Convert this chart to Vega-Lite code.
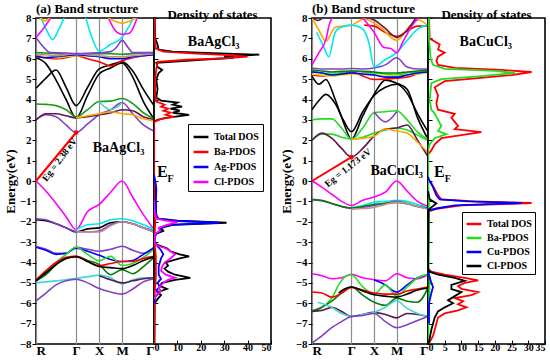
{
"$schema":"https://vega.github.io/schema/vega-lite/v6.json",
"padding":{"left":3,"top":2,"right":2,"bottom":0},
"config":{"view":{"stroke":"black","strokeWidth":1.6},"font":"Liberation Serif",
"axis":{"labelFont":"Liberation Serif","labelFontWeight":"bold","labelFontSize":11,"labelColor":"black","titleFont":"Liberation Serif","titleFontWeight":"bold","titleFontSize":13,"titleColor":"black","domain":false,"tickColor":"black","grid":false,"labelOverlap":false,"tickCount":40},
"title":{"font":"Liberation Serif","fontWeight":"bold","fontSize":13,"offset":-4,"color":"black"}},
"datasets":{
"ba":[
{"b":"ab1","k":0,"e":6.05},{"b":"ab1","k":0.085,"e":5.75},{"b":"ab1","k":0.17,"e":4.95},{"b":"ab1","k":0.255,"e":4.0},{"b":"ab1","k":0.34,"e":3.1},{"b":"ab1","k":0.4375,"e":4.2},{"b":"ab1","k":0.535,"e":5.25},{"b":"ab1","k":0.6325,"e":5.55},{"b":"ab1","k":0.73,"e":5.8},{"b":"ab1","k":0.82,"e":5.1},{"b":"ab1","k":0.91,"e":3.9},{"b":"ab1","k":1,"e":3.05},
{"b":"ab2","k":0,"e":4.55},{"b":"ab2","k":0.085,"e":5.05},{"b":"ab2","k":0.17,"e":5.45},{"b":"ab2","k":0.255,"e":4.6},{"b":"ab2","k":0.34,"e":3.7},{"b":"ab2","k":0.4375,"e":4.6},{"b":"ab2","k":0.535,"e":5.5},{"b":"ab2","k":0.6325,"e":5.7},{"b":"ab2","k":0.73,"e":5.85},{"b":"ab2","k":0.82,"e":5.4},{"b":"ab2","k":0.91,"e":4.5},{"b":"ab2","k":1,"e":3.7},
{"b":"ag1","k":0,"e":3.78},{"b":"ag1","k":0.085,"e":3.76},{"b":"ag1","k":0.17,"e":3.7},{"b":"ag1","k":0.255,"e":3.5},{"b":"ag1","k":0.34,"e":3.15},{"b":"ag1","k":0.4375,"e":3.5},{"b":"ag1","k":0.535,"e":3.9},{"b":"ag1","k":0.6325,"e":3.92},{"b":"ag1","k":0.73,"e":4.05},{"b":"ag1","k":0.82,"e":3.8},{"b":"ag1","k":0.91,"e":3.35},{"b":"ag1","k":1,"e":3.05},
{"b":"ap1","k":0,"e":3.0},{"b":"ap1","k":0.085,"e":3.25},{"b":"ap1","k":0.17,"e":3.15},{"b":"ap1","k":0.255,"e":2.75},{"b":"ap1","k":0.34,"e":2.38},{"b":"ap1","k":0.4375,"e":2.8},{"b":"ap1","k":0.535,"e":3.25},{"b":"ap1","k":0.6325,"e":3.5},{"b":"ap1","k":0.73,"e":3.85},{"b":"ap1","k":0.82,"e":3.3},{"b":"ap1","k":0.91,"e":2.75},{"b":"ap1","k":1,"e":2.45},
{"b":"am1","k":0,"e":3.0},{"b":"am1","k":0.085,"e":3.3},{"b":"am1","k":0.17,"e":3.3},{"b":"am1","k":0.255,"e":3.2},{"b":"am1","k":0.34,"e":3.1},{"b":"am1","k":0.4375,"e":3.15},{"b":"am1","k":0.535,"e":3.25},{"b":"am1","k":0.6325,"e":3.35},{"b":"am1","k":0.73,"e":3.5},{"b":"am1","k":0.82,"e":3.45},{"b":"am1","k":0.91,"e":3.15},{"b":"am1","k":1,"e":3.0},
{"b":"ao1","k":0.34,"e":3.1},{"b":"ao1","k":0.4375,"e":3.2},{"b":"ao1","k":0.535,"e":3.3},{"b":"ao1","k":0.6325,"e":3.4},{"b":"ao1","k":0.73,"e":3.3},{"b":"ao1","k":0.82,"e":3.25},{"b":"ao1","k":0.91,"e":3.05},{"b":"ao1","k":1,"e":2.95},
{"b":"ac1","k":0.535,"e":3.9},{"b":"ac1","k":0.58,"e":3.65},{"b":"ac1","k":0.6325,"e":3.5},{"b":"ac1","k":0.68,"e":3.6},{"b":"ac1","k":0.73,"e":3.85},
{"b":"ag2","k":0,"e":6.3},{"b":"ag2","k":0.085,"e":6.28},{"b":"ag2","k":0.17,"e":6.25},{"b":"ag2","k":0.255,"e":6.22},{"b":"ag2","k":0.34,"e":6.2},{"b":"ag2","k":0.4375,"e":6.22},{"b":"ag2","k":0.535,"e":6.25},{"b":"ag2","k":0.6325,"e":6.25},{"b":"ag2","k":0.73,"e":6.22},{"b":"ag2","k":0.82,"e":6.25},{"b":"ag2","k":0.91,"e":6.28},{"b":"ag2","k":1,"e":6.3},
{"b":"ar1","k":0,"e":6.1},{"b":"ar1","k":0.085,"e":6.05},{"b":"ar1","k":0.17,"e":6.0},{"b":"ar1","k":0.255,"e":6.05},{"b":"ar1","k":0.34,"e":6.15},{"b":"ar1","k":0.4375,"e":6.0},{"b":"ar1","k":0.535,"e":5.85},{"b":"ar1","k":0.6325,"e":5.65},{"b":"ar1","k":0.73,"e":5.9},{"b":"ar1","k":0.82,"e":6.05},{"b":"ar1","k":0.91,"e":6.15},{"b":"ar1","k":1,"e":6.2},
{"b":"ay1","k":0,"e":6.2},{"b":"ay1","k":0.085,"e":6.1},{"b":"ay1","k":0.17,"e":6.05},{"b":"ay1","k":0.255,"e":6.1},{"b":"ay1","k":0.34,"e":6.15},{"b":"ay1","k":0.4375,"e":6.15},{"b":"ay1","k":0.535,"e":6.1},{"b":"ay1","k":0.6325,"e":6.05},{"b":"ay1","k":0.73,"e":6.05},{"b":"ay1","k":0.82,"e":6.1},{"b":"ay1","k":0.91,"e":6.15},{"b":"ay1","k":1,"e":6.2},
{"b":"au1","k":0,"e":6.15},{"b":"au1","k":0.085,"e":6.05},{"b":"au1","k":0.17,"e":6.1},{"b":"au1","k":0.255,"e":6.15},{"b":"au1","k":0.34,"e":6.2},{"b":"au1","k":0.4375,"e":6.15},{"b":"au1","k":0.535,"e":6.1},{"b":"au1","k":0.6325,"e":6.0},{"b":"au1","k":0.73,"e":6.0},{"b":"au1","k":0.82,"e":6.1},{"b":"au1","k":0.91,"e":6.15},{"b":"au1","k":1,"e":6.2},
{"b":"an1","k":0,"e":6.2},{"b":"an1","k":0.085,"e":6.2},{"b":"an1","k":0.17,"e":6.15},{"b":"an1","k":0.255,"e":6.2},{"b":"an1","k":0.34,"e":6.25},{"b":"an1","k":0.4375,"e":6.2},{"b":"an1","k":0.535,"e":6.15},{"b":"an1","k":0.6325,"e":6.1},{"b":"an1","k":0.73,"e":6.1},{"b":"an1","k":0.82,"e":6.15},{"b":"an1","k":0.91,"e":6.2},{"b":"an1","k":1,"e":6.25},
{"b":"ap2","k":0,"e":7.05},{"b":"ap2","k":0.06,"e":6.6},{"b":"ap2","k":0.12,"e":6.3},{"b":"ap2","k":0.255,"e":6.28},{"b":"ap2","k":0.34,"e":6.25},{"b":"ap2","k":0.535,"e":6.3},{"b":"ap2","k":0.6325,"e":6.35},{"b":"ap2","k":0.68,"e":6.55},{"b":"ap2","k":0.73,"e":6.9},{"b":"ap2","k":0.78,"e":6.55},{"b":"ap2","k":0.82,"e":6.3},{"b":"ap2","k":1,"e":6.3},
{"b":"ac2","k":0.04,"e":8.05},{"b":"ac2","k":0.09,"e":7.4},{"b":"ac2","k":0.14,"e":6.95},{"b":"ac2","k":0.19,"e":7.4},{"b":"ac2","k":0.24,"e":8.05},
{"b":"ac3","k":0.42,"e":8.05},{"b":"ac3","k":0.47,"e":7.1},{"b":"ac3","k":0.535,"e":6.37},{"b":"ac3","k":0.63,"e":6.7},{"b":"ac3","k":0.73,"e":7.05},{"b":"ac3","k":0.78,"e":7.5},{"b":"ac3","k":0.83,"e":8.05},
{"b":"ak1","k":0,"e":7.05},{"b":"ak1","k":0.065,"e":7.5},{"b":"ak1","k":0.13,"e":8.05},
{"b":"ak2","k":0.61,"e":8.05},{"b":"ak2","k":0.67,"e":7.4},{"b":"ak2","k":0.73,"e":7.2},{"b":"ak2","k":0.79,"e":7.25},{"b":"ak2","k":0.86,"e":8.05},
{"b":"ao2","k":0.03,"e":8.05},{"b":"ao2","k":0.075,"e":7.85},{"b":"ao2","k":0.12,"e":8.05},
{"b":"ao3","k":0.6,"e":8.05},{"b":"ao3","k":0.73,"e":7.75},{"b":"ao3","k":0.86,"e":8.05},
{"b":"ak3","k":0,"e":0},{"b":"ak3","k":0.085,"e":-0.5},{"b":"ak3","k":0.17,"e":-1.1},{"b":"ak3","k":0.255,"e":-1.75},{"b":"ak3","k":0.34,"e":-2.38},{"b":"ak3","k":0.4375,"e":-1.5},{"b":"ak3","k":0.535,"e":-1.15},{"b":"ak3","k":0.6325,"e":-0.55},{"b":"ak3","k":0.73,"e":0},{"b":"ak3","k":0.82,"e":-0.8},{"b":"ak3","k":0.91,"e":-1.65},{"b":"ak3","k":1,"e":-2.38},
{"b":"ab3","k":0,"e":-1.9},{"b":"ab3","k":0.085,"e":-1.95},{"b":"ab3","k":0.17,"e":-2.1},{"b":"ab3","k":0.255,"e":-2.3},{"b":"ab3","k":0.34,"e":-2.5},{"b":"ab3","k":0.4375,"e":-2.35},{"b":"ab3","k":0.535,"e":-2.3},{"b":"ab3","k":0.6325,"e":-2.05},{"b":"ab3","k":0.73,"e":-2.0},{"b":"ab3","k":0.82,"e":-2.1},{"b":"ab3","k":0.91,"e":-2.3},{"b":"ab3","k":1,"e":-2.5},
{"b":"ap3","k":0,"e":-1.85},{"b":"ap3","k":0.085,"e":-1.9},{"b":"ap3","k":0.17,"e":-2.1},{"b":"ap3","k":0.255,"e":-2.3},{"b":"ap3","k":0.34,"e":-2.48},{"b":"ap3","k":0.4375,"e":-2.5},{"b":"ap3","k":0.535,"e":-2.45},{"b":"ap3","k":0.6325,"e":-2.15},{"b":"ap3","k":0.73,"e":-2.0},{"b":"ap3","k":0.82,"e":-2.1},{"b":"ap3","k":0.91,"e":-2.3},{"b":"ap3","k":1,"e":-2.45},
{"b":"ac4","k":0.34,"e":-2.4},{"b":"ac4","k":0.4375,"e":-2.15},{"b":"ac4","k":0.535,"e":-2.1},{"b":"ac4","k":0.6325,"e":-1.9},{"b":"ac4","k":0.73,"e":-1.85},{"b":"ac4","k":0.82,"e":-1.95},{"b":"ac4","k":0.91,"e":-2.15},{"b":"ac4","k":1,"e":-2.38},
{"b":"an2","k":0.34,"e":-2.5},{"b":"an2","k":0.4375,"e":-2.5},{"b":"an2","k":0.535,"e":-2.5},{"b":"an2","k":0.6325,"e":-2.2},{"b":"an2","k":0.73,"e":-2.0},{"b":"an2","k":0.82,"e":-2.1},{"b":"an2","k":0.91,"e":-2.3},{"b":"an2","k":1,"e":-2.5},
{"b":"ap4","k":0,"e":-3.2},{"b":"ap4","k":0.085,"e":-3.35},{"b":"ap4","k":0.17,"e":-3.55},{"b":"ap4","k":0.255,"e":-3.55},{"b":"ap4","k":0.34,"e":-3.25},{"b":"ap4","k":0.4375,"e":-3.35},{"b":"ap4","k":0.535,"e":-3.45},{"b":"ap4","k":0.6325,"e":-3.35},{"b":"ap4","k":0.73,"e":-3.2},{"b":"ap4","k":0.82,"e":-3.4},{"b":"ap4","k":0.91,"e":-3.55},{"b":"ap4","k":1,"e":-3.25},
{"b":"au2","k":0,"e":-3.25},{"b":"au2","k":0.085,"e":-3.4},{"b":"au2","k":0.17,"e":-3.6},{"b":"au2","k":0.255,"e":-3.55},{"b":"au2","k":0.34,"e":-3.3},{"b":"au2","k":0.4375,"e":-3.45},{"b":"au2","k":0.535,"e":-3.65},{"b":"au2","k":0.6325,"e":-3.85},{"b":"au2","k":0.73,"e":-3.95},{"b":"au2","k":0.82,"e":-3.9},{"b":"au2","k":0.91,"e":-3.6},{"b":"au2","k":1,"e":-3.3},
{"b":"al1","k":0,"e":-4.9},{"b":"al1","k":0.085,"e":-4.5},{"b":"al1","k":0.17,"e":-4.0},{"b":"al1","k":0.255,"e":-3.6},{"b":"al1","k":0.34,"e":-3.25},{"b":"al1","k":0.4375,"e":-3.6},{"b":"al1","k":0.535,"e":-3.92},{"b":"al1","k":0.6325,"e":-3.7},{"b":"al1","k":0.73,"e":-4.15},{"b":"al1","k":0.82,"e":-4.05},{"b":"al1","k":0.91,"e":-3.75},{"b":"al1","k":1,"e":-3.35},
{"b":"ad1","k":0,"e":-4.9},{"b":"ad1","k":0.085,"e":-4.6},{"b":"ad1","k":0.17,"e":-4.1},{"b":"ad1","k":0.255,"e":-3.8},{"b":"ad1","k":0.34,"e":-3.7},{"b":"ad1","k":0.4375,"e":-3.9},{"b":"ad1","k":0.535,"e":-4.1},{"b":"ad1","k":0.6325,"e":-4.6},{"b":"ad1","k":0.73,"e":-4.35},{"b":"ad1","k":0.82,"e":-4.55},{"b":"ad1","k":0.91,"e":-4.2},{"b":"ad1","k":1,"e":-3.75},
{"b":"ar2","k":0,"e":-4.85},{"b":"ar2","k":0.085,"e":-4.4},{"b":"ar2","k":0.17,"e":-4.0},{"b":"ar2","k":0.255,"e":-3.75},{"b":"ar2","k":0.34,"e":-3.7},{"b":"ar2","k":0.4375,"e":-3.95},{"b":"ar2","k":0.535,"e":-4.15},{"b":"ar2","k":0.6325,"e":-4.05},{"b":"ar2","k":0.73,"e":-3.95},{"b":"ar2","k":0.82,"e":-3.95},{"b":"ar2","k":0.91,"e":-3.8},{"b":"ar2","k":1,"e":-3.7},
{"b":"ab4","k":0,"e":-4.9},{"b":"ab4","k":0.085,"e":-4.5},{"b":"ab4","k":0.17,"e":-4.1},{"b":"ab4","k":0.255,"e":-3.8},{"b":"ab4","k":0.34,"e":-3.72},{"b":"ab4","k":0.4375,"e":-3.95},{"b":"ab4","k":0.535,"e":-4.2},{"b":"ab4","k":0.6325,"e":-4.25},{"b":"ab4","k":0.73,"e":-4.3},{"b":"ab4","k":0.82,"e":-4.15},{"b":"ab4","k":0.91,"e":-3.9},{"b":"ab4","k":1,"e":-3.72},
{"b":"at1","k":0,"e":-5.0},{"b":"at1","k":0.085,"e":-4.95},{"b":"at1","k":0.17,"e":-4.9},{"b":"at1","k":0.255,"e":-4.85},{"b":"at1","k":0.34,"e":-4.78},{"b":"at1","k":0.4375,"e":-4.7},{"b":"at1","k":0.535,"e":-4.62},{"b":"at1","k":0.6325,"e":-4.75},{"b":"at1","k":0.73,"e":-5.05},{"b":"at1","k":0.82,"e":-4.85},{"b":"at1","k":0.91,"e":-4.75},{"b":"at1","k":1,"e":-4.75},
{"b":"am2","k":0.535,"e":-4.65},{"b":"am2","k":0.6325,"e":-4.85},{"b":"am2","k":0.73,"e":-5.0},{"b":"am2","k":0.82,"e":-4.9},{"b":"am2","k":0.91,"e":-4.8},{"b":"am2","k":1,"e":-4.75},
{"b":"ap5","k":0,"e":-5.88},{"b":"ap5","k":0.085,"e":-5.5},{"b":"ap5","k":0.17,"e":-5.1},{"b":"ap5","k":0.255,"e":-4.9},{"b":"ap5","k":0.34,"e":-4.82},{"b":"ap5","k":0.4375,"e":-5.0},{"b":"ap5","k":0.535,"e":-5.28},{"b":"ap5","k":0.6325,"e":-5.45},{"b":"ap5","k":0.73,"e":-5.55},{"b":"ap5","k":0.82,"e":-5.3},{"b":"ap5","k":0.91,"e":-4.95},{"b":"ap5","k":1,"e":-4.8}
],
"bb":[
{"b":"bb1","k":0,"e":3.5},{"b":"bb1","k":0.06,"e":3.95},{"b":"bb1","k":0.12,"e":4.25},{"b":"bb1","k":0.2,"e":3.8},{"b":"bb1","k":0.27,"e":3.0},{"b":"bb1","k":0.34,"e":2.42},{"b":"bb1","k":0.4375,"e":3.4},{"b":"bb1","k":0.535,"e":4.2},{"b":"bb1","k":0.6325,"e":4.6},{"b":"bb1","k":0.73,"e":4.75},{"b":"bb1","k":0.82,"e":4.3},{"b":"bb1","k":0.91,"e":3.3},{"b":"bb1","k":1,"e":2.42},
{"b":"bb2","k":0,"e":5.15},{"b":"bb2","k":0.06,"e":4.75},{"b":"bb2","k":0.12,"e":4.98},{"b":"bb2","k":0.2,"e":4.0},{"b":"bb2","k":0.27,"e":2.9},{"b":"bb2","k":0.34,"e":2.05},{"b":"bb2","k":0.4375,"e":3.2},{"b":"bb2","k":0.535,"e":4.25},{"b":"bb2","k":0.6325,"e":4.95},{"b":"bb2","k":0.73,"e":4.8},{"b":"bb2","k":0.82,"e":4.5},{"b":"bb2","k":0.91,"e":3.1},{"b":"bb2","k":1,"e":2.05},
{"b":"bl1","k":0,"e":3.0},{"b":"bl1","k":0.085,"e":3.05},{"b":"bl1","k":0.17,"e":3.05},{"b":"bl1","k":0.255,"e":2.6},{"b":"bl1","k":0.34,"e":2.05},{"b":"bl1","k":0.4375,"e":2.6},{"b":"bl1","k":0.535,"e":3.35},{"b":"bl1","k":0.6325,"e":3.4},{"b":"bl1","k":0.73,"e":3.45},{"b":"bl1","k":0.82,"e":3.0},{"b":"bl1","k":0.91,"e":2.4},{"b":"bl1","k":1,"e":2.05},
{"b":"bl2","k":0,"e":2.0},{"b":"bl2","k":0.085,"e":2.3},{"b":"bl2","k":0.17,"e":2.3},{"b":"bl2","k":0.255,"e":2.15},{"b":"bl2","k":0.34,"e":2.05},{"b":"bl2","k":0.4375,"e":2.15},{"b":"bl2","k":0.535,"e":2.35},{"b":"bl2","k":0.6325,"e":2.5},{"b":"bl2","k":0.73,"e":2.6},{"b":"bl2","k":0.82,"e":2.5},{"b":"bl2","k":0.91,"e":2.25},{"b":"bl2","k":1,"e":2.0},
{"b":"bm1","k":0,"e":2.0},{"b":"bm1","k":0.085,"e":2.35},{"b":"bm1","k":0.17,"e":2.1},{"b":"bm1","k":0.255,"e":1.6},{"b":"bm1","k":0.34,"e":1.17},{"b":"bm1","k":0.4375,"e":1.6},{"b":"bm1","k":0.535,"e":2.2},{"b":"bm1","k":0.6325,"e":2.55},{"b":"bm1","k":0.73,"e":2.6},{"b":"bm1","k":0.82,"e":2.75},{"b":"bm1","k":0.91,"e":2.0},{"b":"bm1","k":1,"e":1.2},
{"b":"bo1","k":0.34,"e":2.05},{"b":"bo1","k":0.4375,"e":2.1},{"b":"bo1","k":0.535,"e":2.2},{"b":"bo1","k":0.6325,"e":2.55},{"b":"bo1","k":0.73,"e":2.45},{"b":"bo1","k":0.82,"e":2.35},{"b":"bo1","k":0.91,"e":1.9},{"b":"bo1","k":1,"e":1.4},
{"b":"bp1","k":0.535,"e":3.4},{"b":"bp1","k":0.6325,"e":2.9},{"b":"bp1","k":0.73,"e":3.4},
{"b":"bp2","k":0,"e":5.55},{"b":"bp2","k":0.085,"e":5.5},{"b":"bp2","k":0.17,"e":5.5},{"b":"bp2","k":0.255,"e":5.5},{"b":"bp2","k":0.34,"e":5.52},{"b":"bp2","k":0.4375,"e":5.5},{"b":"bp2","k":0.535,"e":5.55},{"b":"bp2","k":0.6325,"e":5.7},{"b":"bp2","k":0.73,"e":6.05},{"b":"bp2","k":0.82,"e":5.6},{"b":"bp2","k":0.91,"e":5.5},{"b":"bp2","k":1,"e":5.5},
{"b":"br1","k":0,"e":5.2},{"b":"br1","k":0.085,"e":5.15},{"b":"br1","k":0.17,"e":5.2},{"b":"br1","k":0.255,"e":5.3},{"b":"br1","k":0.34,"e":5.35},{"b":"br1","k":0.4375,"e":5.15},{"b":"br1","k":0.535,"e":4.98},{"b":"br1","k":0.6325,"e":5.0},{"b":"br1","k":0.73,"e":5.05},{"b":"br1","k":0.82,"e":5.1},{"b":"br1","k":0.91,"e":5.25},{"b":"br1","k":1,"e":5.35},
{"b":"bl3","k":0,"e":5.4},{"b":"bl3","k":0.085,"e":5.3},{"b":"bl3","k":0.17,"e":5.25},{"b":"bl3","k":0.255,"e":5.3},{"b":"bl3","k":0.34,"e":5.4},{"b":"bl3","k":0.4375,"e":5.35},{"b":"bl3","k":0.535,"e":5.3},{"b":"bl3","k":0.6325,"e":5.25},{"b":"bl3","k":0.73,"e":5.2},{"b":"bl3","k":0.82,"e":5.3},{"b":"bl3","k":0.91,"e":5.35},{"b":"bl3","k":1,"e":5.4},
{"b":"by1","k":0,"e":5.25},{"b":"by1","k":0.085,"e":5.2},{"b":"by1","k":0.17,"e":5.15},{"b":"by1","k":0.255,"e":5.2},{"b":"by1","k":0.34,"e":5.25},{"b":"by1","k":0.4375,"e":5.25},{"b":"by1","k":0.535,"e":5.2},{"b":"by1","k":0.6325,"e":5.15},{"b":"by1","k":0.73,"e":5.15},{"b":"by1","k":0.82,"e":5.2},{"b":"by1","k":0.91,"e":5.25},{"b":"by1","k":1,"e":5.3},
{"b":"bu1","k":0,"e":5.35},{"b":"bu1","k":0.085,"e":5.3},{"b":"bu1","k":0.17,"e":5.2},{"b":"bu1","k":0.255,"e":5.25},{"b":"bu1","k":0.34,"e":5.3},{"b":"bu1","k":0.4375,"e":5.25},{"b":"bu1","k":0.535,"e":5.2},{"b":"bu1","k":0.6325,"e":5.1},{"b":"bu1","k":0.73,"e":5.1},{"b":"bu1","k":0.82,"e":5.2},{"b":"bu1","k":0.91,"e":5.3},{"b":"bu1","k":1,"e":5.35},
{"b":"bd1","k":0,"e":5.45},{"b":"bd1","k":0.085,"e":5.4},{"b":"bd1","k":0.17,"e":5.35},{"b":"bd1","k":0.255,"e":5.38},{"b":"bd1","k":0.34,"e":5.4},{"b":"bd1","k":0.4375,"e":5.38},{"b":"bd1","k":0.535,"e":5.35},{"b":"bd1","k":0.6325,"e":5.3},{"b":"bd1","k":0.73,"e":5.3},{"b":"bd1","k":0.82,"e":5.35},{"b":"bd1","k":0.91,"e":5.4},{"b":"bd1","k":1,"e":5.45},
{"b":"br2","k":0.45,"e":7.65},{"b":"br2","k":0.535,"e":7.6},{"b":"br2","k":0.63,"e":7.3},{"b":"br2","k":0.73,"e":7.1},{"b":"br2","k":0.82,"e":7.35},{"b":"br2","k":0.91,"e":7.6},{"b":"br2","k":1,"e":7.6},
{"b":"bo2","k":0,"e":8.0},{"b":"bo2","k":0.06,"e":7.4},{"b":"bo2","k":0.12,"e":6.85},{"b":"bo2","k":0.2,"e":7.55},{"b":"bo2","k":0.34,"e":7.65},{"b":"bo2","k":0.45,"e":7.95},{"b":"bo2","k":0.6,"e":7.5},{"b":"bo2","k":0.73,"e":6.9},{"b":"bo2","k":0.85,"e":7.65},{"b":"bo2","k":0.92,"e":7.9},{"b":"bo2","k":1,"e":7.6},
{"b":"bc1","k":0.04,"e":7.3},{"b":"bc1","k":0.1,"e":6.6},{"b":"bc1","k":0.145,"e":6.1},{"b":"bc1","k":0.2,"e":7.3},{"b":"bc1","k":0.25,"e":7.55},{"b":"bc1","k":0.34,"e":7.65},{"b":"bc1","k":0.43,"e":7.5},{"b":"bc1","k":0.49,"e":6.8},{"b":"bc1","k":0.535,"e":5.6},{"b":"bc1","k":0.63,"e":5.95},{"b":"bc1","k":0.73,"e":6.3},{"b":"bc1","k":0.82,"e":6.9},{"b":"bc1","k":0.91,"e":7.45},{"b":"bc1","k":1,"e":7.65},
{"b":"bk1","k":0,"e":5.7},{"b":"bk1","k":0.06,"e":6.3},{"b":"bk1","k":0.12,"e":6.95},{"b":"bk1","k":0.15,"e":7.7},{"b":"bk1","k":0.18,"e":8.05},
{"b":"bk2","k":0.43,"e":8.05},{"b":"bk2","k":0.535,"e":7.3},{"b":"bk2","k":0.62,"e":6.55},{"b":"bk2","k":0.68,"e":6.5},{"b":"bk2","k":0.73,"e":6.3},{"b":"bk2","k":0.79,"e":6.9},{"b":"bk2","k":0.86,"e":7.6},{"b":"bk2","k":0.92,"e":8.05},
{"b":"bm2","k":0.45,"e":8.05},{"b":"bm2","k":0.535,"e":7.9},{"b":"bm2","k":0.63,"e":7.5},{"b":"bm2","k":0.73,"e":7.05},{"b":"bm2","k":0.82,"e":7.4},{"b":"bm2","k":0.9,"e":8.05},
{"b":"bm3","k":0,"e":8.05},{"b":"bm3","k":0.05,"e":7.88},{"b":"bm3","k":0.1,"e":8.05},
{"b":"bk3","k":0,"e":0},{"b":"bk3","k":0.085,"e":-0.3},{"b":"bk3","k":0.17,"e":-0.65},{"b":"bk3","k":0.255,"e":-1.0},{"b":"bk3","k":0.34,"e":-1.2},{"b":"bk3","k":0.4375,"e":-0.95},{"b":"bk3","k":0.535,"e":-0.78},{"b":"bk3","k":0.6325,"e":-0.55},{"b":"bk3","k":0.73,"e":0},{"b":"bk3","k":0.82,"e":-0.5},{"b":"bk3","k":0.91,"e":-1.0},{"b":"bk3","k":1,"e":-1.25},
{"b":"bc2","k":0.34,"e":-1.3},{"b":"bc2","k":0.4375,"e":-1.2},{"b":"bc2","k":0.535,"e":-1.05},{"b":"bc2","k":0.6325,"e":-1.0},{"b":"bc2","k":0.73,"e":-0.95},{"b":"bc2","k":0.82,"e":-1.0},{"b":"bc2","k":0.91,"e":-1.15},{"b":"bc2","k":1,"e":-1.3},
{"b":"bp3","k":0,"e":-0.9},{"b":"bp3","k":0.085,"e":-0.95},{"b":"bp3","k":0.17,"e":-1.1},{"b":"bp3","k":0.255,"e":-1.25},{"b":"bp3","k":0.34,"e":-1.35},{"b":"bp3","k":0.4375,"e":-1.3},{"b":"bp3","k":0.535,"e":-1.2},{"b":"bp3","k":0.6325,"e":-1.1},{"b":"bp3","k":0.73,"e":-1.0},{"b":"bp3","k":0.82,"e":-1.1},{"b":"bp3","k":0.91,"e":-1.25},{"b":"bp3","k":1,"e":-1.35},
{"b":"bd2","k":0,"e":-0.92},{"b":"bd2","k":0.085,"e":-0.97},{"b":"bd2","k":0.17,"e":-1.1},{"b":"bd2","k":0.255,"e":-1.25},{"b":"bd2","k":0.34,"e":-1.33},{"b":"bd2","k":0.4375,"e":-1.25},{"b":"bd2","k":0.535,"e":-1.15},{"b":"bd2","k":0.6325,"e":-1.1},{"b":"bd2","k":0.73,"e":-1.05},{"b":"bd2","k":0.82,"e":-1.12},{"b":"bd2","k":0.91,"e":-1.25},{"b":"bd2","k":1,"e":-1.33},
{"b":"bn1","k":0.34,"e":-1.38},{"b":"bn1","k":0.4375,"e":-1.35},{"b":"bn1","k":0.535,"e":-1.3},{"b":"bn1","k":0.6325,"e":-1.15},{"b":"bn1","k":0.73,"e":-1.05},{"b":"bn1","k":0.82,"e":-1.1},{"b":"bn1","k":0.91,"e":-1.25},{"b":"bn1","k":1,"e":-1.38},
{"b":"bk4","k":0,"e":-4.55},{"b":"bk4","k":0.085,"e":-4.65},{"b":"bk4","k":0.17,"e":-4.8},{"b":"bk4","k":0.255,"e":-4.75},{"b":"bk4","k":0.34,"e":-4.58},{"b":"bk4","k":0.4375,"e":-4.75},{"b":"bk4","k":0.535,"e":-4.85},{"b":"bk4","k":0.6325,"e":-4.9},{"b":"bk4","k":0.73,"e":-4.55},{"b":"bk4","k":0.82,"e":-4.75},{"b":"bk4","k":0.91,"e":-4.8},{"b":"bk4","k":1,"e":-4.58},
{"b":"bu2","k":0.535,"e":-4.85},{"b":"bu2","k":0.6325,"e":-5.1},{"b":"bu2","k":0.73,"e":-5.45},{"b":"bu2","k":0.82,"e":-5.1},{"b":"bu2","k":0.91,"e":-4.75},{"b":"bu2","k":1,"e":-4.6},
{"b":"bl4","k":0,"e":-6.35},{"b":"bl4","k":0.085,"e":-6.2},{"b":"bl4","k":0.17,"e":-5.75},{"b":"bl4","k":0.24,"e":-5.0},{"b":"bl4","k":0.3,"e":-4.65},{"b":"bl4","k":0.34,"e":-4.6},{"b":"bl4","k":0.4375,"e":-5.2},{"b":"bl4","k":0.535,"e":-5.55},{"b":"bl4","k":0.6325,"e":-5.1},{"b":"bl4","k":0.73,"e":-5.65},{"b":"bl4","k":0.82,"e":-5.2},{"b":"bl4","k":0.91,"e":-4.75},{"b":"bl4","k":1,"e":-4.58},
{"b":"bd3","k":0,"e":-6.4},{"b":"bd3","k":0.085,"e":-6.2},{"b":"bd3","k":0.17,"e":-5.9},{"b":"bd3","k":0.255,"e":-5.5},{"b":"bd3","k":0.34,"e":-5.2},{"b":"bd3","k":0.4375,"e":-5.6},{"b":"bd3","k":0.535,"e":-5.95},{"b":"bd3","k":0.6325,"e":-6.1},{"b":"bd3","k":0.73,"e":-5.75},{"b":"bd3","k":0.82,"e":-5.9},{"b":"bd3","k":0.91,"e":-5.95},{"b":"bd3","k":1,"e":-5.25},
{"b":"br3","k":0,"e":-5.45},{"b":"br3","k":0.085,"e":-5.5},{"b":"br3","k":0.17,"e":-5.7},{"b":"br3","k":0.255,"e":-5.5},{"b":"br3","k":0.34,"e":-5.22},{"b":"br3","k":0.4375,"e":-5.35},{"b":"br3","k":0.535,"e":-5.5},{"b":"br3","k":0.6325,"e":-5.55},{"b":"br3","k":0.73,"e":-5.55},{"b":"br3","k":0.82,"e":-5.4},{"b":"br3","k":0.91,"e":-5.3},{"b":"br3","k":1,"e":-5.2},
{"b":"bb3","k":0.23,"e":-5.5},{"b":"bb3","k":0.28,"e":-5.3},{"b":"bb3","k":0.34,"e":-5.2},{"b":"bb3","k":0.4375,"e":-5.4},{"b":"bb3","k":0.535,"e":-5.58},{"b":"bb3","k":0.6325,"e":-5.65},{"b":"bb3","k":0.73,"e":-5.7},{"b":"bb3","k":0.82,"e":-5.55},{"b":"bb3","k":0.91,"e":-5.35},{"b":"bb3","k":1,"e":-5.25},
{"b":"bm4","k":0,"e":-6.4},{"b":"bm4","k":0.085,"e":-6.35},{"b":"bm4","k":0.17,"e":-6.2},{"b":"bm4","k":0.255,"e":-6.4},{"b":"bm4","k":0.34,"e":-6.65},{"b":"bm4","k":0.4375,"e":-6.55},{"b":"bm4","k":0.535,"e":-6.45},{"b":"bm4","k":0.6325,"e":-6.55},{"b":"bm4","k":0.73,"e":-6.72},{"b":"bm4","k":0.82,"e":-6.5},{"b":"bm4","k":0.91,"e":-6.55},{"b":"bm4","k":1,"e":-6.65},
{"b":"bt1","k":0.05,"e":-5.95},{"b":"bt1","k":0.17,"e":-6.2},{"b":"bt1","k":0.255,"e":-6.5},{"b":"bt1","k":0.34,"e":-6.65},{"b":"bt1","k":0.4375,"e":-6.55},{"b":"bt1","k":0.535,"e":-6.45},{"b":"bt1","k":0.6325,"e":-6.2},{"b":"bt1","k":0.73,"e":-5.88},{"b":"bt1","k":0.82,"e":-6.25},{"b":"bt1","k":0.91,"e":-6.5},{"b":"bt1","k":1,"e":-6.65},
{"b":"bp4","k":0,"e":-7.95},{"b":"bp4","k":0.085,"e":-7.6},{"b":"bp4","k":0.17,"e":-7.2},{"b":"bp4","k":0.255,"e":-6.9},{"b":"bp4","k":0.34,"e":-6.65},{"b":"bp4","k":0.4375,"e":-6.6},{"b":"bp4","k":0.535,"e":-6.5},{"b":"bp4","k":0.6325,"e":-6.9},{"b":"bp4","k":0.73,"e":-7.2},{"b":"bp4","k":0.82,"e":-7.05},{"b":"bp4","k":0.91,"e":-6.85},{"b":"bp4","k":1,"e":-6.65}
],
"da":[
{"s":"Total DOS","e":-8,"v":0.2},{"s":"Total DOS","e":-6.0,"v":0.3},{"s":"Total DOS","e":-5.8,"v":1.5},{"s":"Total DOS","e":-5.6,"v":3},{"s":"Total DOS","e":-5.45,"v":1.5},{"s":"Total DOS","e":-5.3,"v":5.5},{"s":"Total DOS","e":-5.15,"v":2.5},{"s":"Total DOS","e":-5.0,"v":3.5},{"s":"Total DOS","e":-4.85,"v":9},{"s":"Total DOS","e":-4.75,"v":15.5},{"s":"Total DOS","e":-4.6,"v":9},{"s":"Total DOS","e":-4.45,"v":6},{"s":"Total DOS","e":-4.3,"v":4.5},{"s":"Total DOS","e":-4.15,"v":6},{"s":"Total DOS","e":-4.0,"v":5},{"s":"Total DOS","e":-3.9,"v":8},{"s":"Total DOS","e":-3.8,"v":11},{"s":"Total DOS","e":-3.7,"v":15},{"s":"Total DOS","e":-3.6,"v":11},{"s":"Total DOS","e":-3.45,"v":7},{"s":"Total DOS","e":-3.3,"v":5.5},{"s":"Total DOS","e":-3.2,"v":3},{"s":"Total DOS","e":-3.1,"v":0.5},{"s":"Total DOS","e":-2.9,"v":0.2},{"s":"Total DOS","e":-2.6,"v":0.8},{"s":"Total DOS","e":-2.45,"v":4},{"s":"Total DOS","e":-2.3,"v":3},{"s":"Total DOS","e":-2.15,"v":8},{"s":"Total DOS","e":-2.05,"v":31},{"s":"Total DOS","e":-1.95,"v":10},{"s":"Total DOS","e":-1.85,"v":2},{"s":"Total DOS","e":-1.7,"v":1},{"s":"Total DOS","e":-1.3,"v":0.8},{"s":"Total DOS","e":-0.5,"v":0.8},{"s":"Total DOS","e":0,"v":0.5},{"s":"Total DOS","e":0.2,"v":0},{"s":"Total DOS","e":2.9,"v":0},{"s":"Total DOS","e":3.0,"v":1.5},{"s":"Total DOS","e":3.1,"v":5},{"s":"Total DOS","e":3.25,"v":15},{"s":"Total DOS","e":3.35,"v":8},{"s":"Total DOS","e":3.45,"v":11},{"s":"Total DOS","e":3.55,"v":7},{"s":"Total DOS","e":3.65,"v":12},{"s":"Total DOS","e":3.75,"v":8},{"s":"Total DOS","e":3.85,"v":10},{"s":"Total DOS","e":3.95,"v":3},{"s":"Total DOS","e":4.1,"v":1},{"s":"Total DOS","e":4.5,"v":1.5},{"s":"Total DOS","e":5.0,"v":1},{"s":"Total DOS","e":5.3,"v":2},{"s":"Total DOS","e":5.45,"v":3.5},{"s":"Total DOS","e":5.6,"v":1.5},{"s":"Total DOS","e":5.8,"v":1},{"s":"Total DOS","e":5.95,"v":20},{"s":"Total DOS","e":6.05,"v":34},{"s":"Total DOS","e":6.12,"v":30},{"s":"Total DOS","e":6.2,"v":45},{"s":"Total DOS","e":6.28,"v":25},{"s":"Total DOS","e":6.35,"v":8},{"s":"Total DOS","e":6.45,"v":2},{"s":"Total DOS","e":6.7,"v":1.5},{"s":"Total DOS","e":7.0,"v":0.5},{"s":"Total DOS","e":8,"v":0.3},
{"s":"Ba-PDOS","e":-8,"v":0},{"s":"Ba-PDOS","e":-5.5,"v":0.3},{"s":"Ba-PDOS","e":-4.7,"v":0.8},{"s":"Ba-PDOS","e":-3.7,"v":0.8},{"s":"Ba-PDOS","e":-3.0,"v":0.2},{"s":"Ba-PDOS","e":-2.0,"v":0.5},{"s":"Ba-PDOS","e":-1.0,"v":0},{"s":"Ba-PDOS","e":2.9,"v":0},{"s":"Ba-PDOS","e":3.05,"v":3},{"s":"Ba-PDOS","e":3.15,"v":8.5},{"s":"Ba-PDOS","e":3.25,"v":5},{"s":"Ba-PDOS","e":3.35,"v":7},{"s":"Ba-PDOS","e":3.45,"v":4},{"s":"Ba-PDOS","e":3.55,"v":6},{"s":"Ba-PDOS","e":3.65,"v":3},{"s":"Ba-PDOS","e":3.75,"v":4.5},{"s":"Ba-PDOS","e":3.9,"v":1},{"s":"Ba-PDOS","e":4.2,"v":0.5},{"s":"Ba-PDOS","e":5.0,"v":0.5},{"s":"Ba-PDOS","e":5.5,"v":1},{"s":"Ba-PDOS","e":5.85,"v":1.5},{"s":"Ba-PDOS","e":5.95,"v":14},{"s":"Ba-PDOS","e":6.02,"v":30},{"s":"Ba-PDOS","e":6.1,"v":40},{"s":"Ba-PDOS","e":6.18,"v":32},{"s":"Ba-PDOS","e":6.25,"v":18},{"s":"Ba-PDOS","e":6.35,"v":4},{"s":"Ba-PDOS","e":6.5,"v":0.8},{"s":"Ba-PDOS","e":7,"v":0.3},{"s":"Ba-PDOS","e":8,"v":0.2},
{"s":"Ag-PDOS","e":-6,"v":0},{"s":"Ag-PDOS","e":-5.7,"v":0.5},{"s":"Ag-PDOS","e":-5.5,"v":2},{"s":"Ag-PDOS","e":-5.35,"v":1},{"s":"Ag-PDOS","e":-5.2,"v":2.5},{"s":"Ag-PDOS","e":-5.0,"v":1.5},{"s":"Ag-PDOS","e":-4.8,"v":3},{"s":"Ag-PDOS","e":-4.6,"v":2},{"s":"Ag-PDOS","e":-4.2,"v":2},{"s":"Ag-PDOS","e":-3.8,"v":3},{"s":"Ag-PDOS","e":-3.6,"v":4},{"s":"Ag-PDOS","e":-3.4,"v":3},{"s":"Ag-PDOS","e":-3.2,"v":1.5},{"s":"Ag-PDOS","e":-3.0,"v":0.2},{"s":"Ag-PDOS","e":-2.6,"v":0.5},{"s":"Ag-PDOS","e":-2.45,"v":3},{"s":"Ag-PDOS","e":-2.3,"v":2.5},{"s":"Ag-PDOS","e":-2.15,"v":6},{"s":"Ag-PDOS","e":-2.05,"v":28},{"s":"Ag-PDOS","e":-1.95,"v":8},{"s":"Ag-PDOS","e":-1.85,"v":1.5},{"s":"Ag-PDOS","e":-1.6,"v":0.8},{"s":"Ag-PDOS","e":-1,"v":0.8},{"s":"Ag-PDOS","e":-0.4,"v":1},{"s":"Ag-PDOS","e":0,"v":0.5},{"s":"Ag-PDOS","e":0.3,"v":0},
{"s":"Cl-PDOS","e":-5.8,"v":0},{"s":"Cl-PDOS","e":-5.6,"v":1},{"s":"Cl-PDOS","e":-5.4,"v":3},{"s":"Cl-PDOS","e":-5.25,"v":2},{"s":"Cl-PDOS","e":-5.0,"v":4},{"s":"Cl-PDOS","e":-4.85,"v":6},{"s":"Cl-PDOS","e":-4.75,"v":9},{"s":"Cl-PDOS","e":-4.6,"v":5},{"s":"Cl-PDOS","e":-4.4,"v":3},{"s":"Cl-PDOS","e":-4.2,"v":3.5},{"s":"Cl-PDOS","e":-4.0,"v":4.5},{"s":"Cl-PDOS","e":-3.8,"v":7},{"s":"Cl-PDOS","e":-3.6,"v":9},{"s":"Cl-PDOS","e":-3.45,"v":7},{"s":"Cl-PDOS","e":-3.3,"v":5},{"s":"Cl-PDOS","e":-3.2,"v":2},{"s":"Cl-PDOS","e":-3.1,"v":0.3},{"s":"Cl-PDOS","e":-2.6,"v":0.3},{"s":"Cl-PDOS","e":-2.45,"v":2.5},{"s":"Cl-PDOS","e":-2.3,"v":2},{"s":"Cl-PDOS","e":-2.1,"v":7},{"s":"Cl-PDOS","e":-2.02,"v":10},{"s":"Cl-PDOS","e":-1.95,"v":5},{"s":"Cl-PDOS","e":-1.85,"v":1},{"s":"Cl-PDOS","e":-1.5,"v":0.3},{"s":"Cl-PDOS","e":-1.0,"v":0}
],
"db":[
{"s":"Total DOS","e":-8,"v":0},{"s":"Total DOS","e":-7.9,"v":0.5},{"s":"Total DOS","e":-7.6,"v":1.5},{"s":"Total DOS","e":-7.3,"v":2},{"s":"Total DOS","e":-7.0,"v":2.5},{"s":"Total DOS","e":-6.7,"v":3},{"s":"Total DOS","e":-6.5,"v":5},{"s":"Total DOS","e":-6.35,"v":9},{"s":"Total DOS","e":-6.2,"v":11.5},{"s":"Total DOS","e":-6.05,"v":9},{"s":"Total DOS","e":-5.9,"v":10.5},{"s":"Total DOS","e":-5.75,"v":8},{"s":"Total DOS","e":-5.6,"v":13},{"s":"Total DOS","e":-5.45,"v":15},{"s":"Total DOS","e":-5.3,"v":10},{"s":"Total DOS","e":-5.15,"v":9},{"s":"Total DOS","e":-5.0,"v":11},{"s":"Total DOS","e":-4.88,"v":15},{"s":"Total DOS","e":-4.75,"v":11},{"s":"Total DOS","e":-4.6,"v":5},{"s":"Total DOS","e":-4.45,"v":1},{"s":"Total DOS","e":-4.3,"v":0},{"s":"Total DOS","e":-1.5,"v":0},{"s":"Total DOS","e":-1.35,"v":3},{"s":"Total DOS","e":-1.2,"v":10},{"s":"Total DOS","e":-1.08,"v":31},{"s":"Total DOS","e":-1.0,"v":14},{"s":"Total DOS","e":-0.9,"v":4},{"s":"Total DOS","e":-0.7,"v":3},{"s":"Total DOS","e":-0.4,"v":2},{"s":"Total DOS","e":-0.1,"v":1},{"s":"Total DOS","e":0.05,"v":0},{"s":"Total DOS","e":1.3,"v":0},{"s":"Total DOS","e":1.5,"v":1},{"s":"Total DOS","e":1.8,"v":2},{"s":"Total DOS","e":2.1,"v":4},{"s":"Total DOS","e":2.3,"v":12},{"s":"Total DOS","e":2.4,"v":16},{"s":"Total DOS","e":2.55,"v":8},{"s":"Total DOS","e":2.7,"v":9},{"s":"Total DOS","e":2.9,"v":8},{"s":"Total DOS","e":3.1,"v":7},{"s":"Total DOS","e":3.3,"v":8},{"s":"Total DOS","e":3.5,"v":3},{"s":"Total DOS","e":3.8,"v":2.5},{"s":"Total DOS","e":4.2,"v":3},{"s":"Total DOS","e":4.6,"v":2},{"s":"Total DOS","e":4.9,"v":5},{"s":"Total DOS","e":5.05,"v":15},{"s":"Total DOS","e":5.2,"v":25},{"s":"Total DOS","e":5.35,"v":31},{"s":"Total DOS","e":5.45,"v":22},{"s":"Total DOS","e":5.55,"v":8},{"s":"Total DOS","e":5.7,"v":3},{"s":"Total DOS","e":5.9,"v":2.5},{"s":"Total DOS","e":6.1,"v":3},{"s":"Total DOS","e":6.3,"v":5},{"s":"Total DOS","e":6.45,"v":3},{"s":"Total DOS","e":6.7,"v":3.5},{"s":"Total DOS","e":6.85,"v":2},{"s":"Total DOS","e":7.0,"v":0.5},{"s":"Total DOS","e":8,"v":0.3},
{"s":"Ba-PDOS","e":-8,"v":0},{"s":"Ba-PDOS","e":-6,"v":0.3},{"s":"Ba-PDOS","e":-4.8,"v":0.5},{"s":"Ba-PDOS","e":-4.3,"v":0.2},{"s":"Ba-PDOS","e":-1.1,"v":0.3},{"s":"Ba-PDOS","e":0,"v":0},{"s":"Ba-PDOS","e":1.5,"v":0},{"s":"Ba-PDOS","e":1.8,"v":0.5},{"s":"Ba-PDOS","e":2.1,"v":2},{"s":"Ba-PDOS","e":2.3,"v":5.5},{"s":"Ba-PDOS","e":2.45,"v":3},{"s":"Ba-PDOS","e":2.7,"v":4},{"s":"Ba-PDOS","e":3.0,"v":3},{"s":"Ba-PDOS","e":3.3,"v":2},{"s":"Ba-PDOS","e":3.5,"v":1},{"s":"Ba-PDOS","e":4.0,"v":0.5},{"s":"Ba-PDOS","e":4.8,"v":1},{"s":"Ba-PDOS","e":5.0,"v":4},{"s":"Ba-PDOS","e":5.15,"v":16},{"s":"Ba-PDOS","e":5.3,"v":26},{"s":"Ba-PDOS","e":5.4,"v":20},{"s":"Ba-PDOS","e":5.5,"v":5},{"s":"Ba-PDOS","e":5.7,"v":1.5},{"s":"Ba-PDOS","e":6.0,"v":0.8},{"s":"Ba-PDOS","e":7,"v":0.3},{"s":"Ba-PDOS","e":8,"v":0.2},
{"s":"Cu-PDOS","e":-7,"v":0.3},{"s":"Cu-PDOS","e":-6,"v":0.3},{"s":"Cu-PDOS","e":-5.5,"v":1},{"s":"Cu-PDOS","e":-5.2,"v":1.5},{"s":"Cu-PDOS","e":-5.0,"v":1},{"s":"Cu-PDOS","e":-4.6,"v":0.3},{"s":"Cu-PDOS","e":-4.3,"v":0},{"s":"Cu-PDOS","e":-1.45,"v":0},{"s":"Cu-PDOS","e":-1.35,"v":2.5},{"s":"Cu-PDOS","e":-1.2,"v":8},{"s":"Cu-PDOS","e":-1.08,"v":28},{"s":"Cu-PDOS","e":-1.0,"v":12},{"s":"Cu-PDOS","e":-0.9,"v":3.5},{"s":"Cu-PDOS","e":-0.7,"v":2.5},{"s":"Cu-PDOS","e":-0.3,"v":1.5},{"s":"Cu-PDOS","e":0,"v":0.5},{"s":"Cu-PDOS","e":0.2,"v":0},
{"s":"Cl-PDOS","e":-8,"v":0},{"s":"Cl-PDOS","e":-7.9,"v":0.3},{"s":"Cl-PDOS","e":-7.3,"v":1},{"s":"Cl-PDOS","e":-6.7,"v":2},{"s":"Cl-PDOS","e":-6.4,"v":3},{"s":"Cl-PDOS","e":-6.2,"v":5},{"s":"Cl-PDOS","e":-6.0,"v":7.5},{"s":"Cl-PDOS","e":-5.85,"v":6},{"s":"Cl-PDOS","e":-5.65,"v":8},{"s":"Cl-PDOS","e":-5.45,"v":10},{"s":"Cl-PDOS","e":-5.3,"v":7},{"s":"Cl-PDOS","e":-5.1,"v":7},{"s":"Cl-PDOS","e":-4.9,"v":11},{"s":"Cl-PDOS","e":-4.75,"v":8},{"s":"Cl-PDOS","e":-4.6,"v":3},{"s":"Cl-PDOS","e":-4.45,"v":0.5},{"s":"Cl-PDOS","e":-4.3,"v":0},{"s":"Cl-PDOS","e":-1.4,"v":0.2},{"s":"Cl-PDOS","e":-1.1,"v":2.5},{"s":"Cl-PDOS","e":-0.9,"v":0.5},{"s":"Cl-PDOS","e":-0.5,"v":0}
]
},
"hconcat":[
{"hconcat":[
{"width":118,"height":326,
"title":{"text":"(a) Band structure","anchor":"start","frame":"group"},
"layer":[
{"data":{"name":"ba"},"mark":{"type":"line","clip":true,"interpolate":"monotone","strokeWidth":1.6},
"encoding":{
"x":{"field":"k","type":"quantitative","scale":{"domain":[0,1],"nice":false,"zero":false},"axis":{"title":null,"values":[0,0.34,0.535,0.73,1],"tickCount":40,"labelExpr":"datum.value==0?'R':datum.value==0.34?'Γ':datum.value==0.535?'X':datum.value==0.73?'M':'Γ'","labelFontSize":13,"ticks":false,"labelPadding":0,"grid":true,"gridColor":"#8c8c8c","gridWidth":1.2,"labelFlush":true,"labelOverlap":false}},
"y":{"field":"e","type":"quantitative","scale":{"domain":[-8,8],"nice":false},"axis":{"title":"Energy(eV)","values":[-8,-7,-6,-5,-4,-3,-2,-1,0,1,2,3,4,5,6,7,8],"format":"d","tickCount":40,"tickSize":4,"labelPadding":1,"titlePadding":2,"labelFlush":false,"labelOverlap":false}},
"color":{"field":"b","type":"nominal","legend":null,"scale":{
"domain":["ab1","ab2","ag1","ap1","am1","ao1","ac1","ag2","ar1","ay1","au1","an1","ap2","ac2","ac3","ak1","ak2","ao2","ao3","ak3","ab3","ap3","ac4","an2","ap4","au2","al1","ad1","ar2","ab4","at1","am2","ap5"],
"range":["#000000","#000000","#1a9a1a","#8040c8","#5c1a50","#ffa500","#40d8d0","#1a9a1a","#ff0000","#e0e000","#0000ff","#c09090","#8040c8","#00e8f0","#00e8f0","#ff00ff","#ff00ff","#ffa500","#ffa500","#ff00ff","#000000","#8040c8","#00e8f0","#c09090","#8040c8","#0000ff","#22dd22","#0b7a0b","#ff0000","#000000","#40d8d0","#5c1a50","#8040c8"]}}}},
{"mark":{"type":"rule","color":"#ff0000","strokeWidth":2,"strokeDash":[8,5]},"encoding":{"y":{"datum":0}}},
{"data":{"values":[{"k":0,"e":0},{"k":0.34,"e":2.38}]},"mark":{"type":"line","color":"#ff0000","strokeWidth":2},"encoding":{"x":{"field":"k","type":"quantitative"},"y":{"field":"e","type":"quantitative"}}},
{"data":{"values":[{"k":0.34,"e":2.38}]},"mark":{"type":"point","filled":true,"color":"#ff0000","size":22,"opacity":1},"encoding":{"x":{"field":"k","type":"quantitative"},"y":{"field":"e","type":"quantitative"}}},
{"data":{"values":[{"k":0.2,"e":1.05,"t":"Eg = 2.38 eV"}]},"mark":{"type":"text","angle":307,"fontSize":9.5,"fontWeight":"bold","font":"Liberation Serif","color":"black"},"encoding":{"x":{"field":"k","type":"quantitative"},"y":{"field":"e","type":"quantitative"},"text":{"field":"t"}}},
{"data":{"values":[{"k":0.7,"e":1.6,"t":"BaAgCl₃"}]},"mark":{"type":"text","fontSize":14,"fontWeight":"bold","font":"Liberation Serif","color":"black"},"encoding":{"x":{"field":"k","type":"quantitative"},"y":{"field":"e","type":"quantitative"},"text":{"field":"t"}}}
]},
{"width":117,"height":326,
"title":{"text":"Density of states","anchor":"middle","frame":"group"},
"layer":[
{"mark":{"type":"rule","color":"#ff0000","strokeWidth":2,"strokeDash":[8,5]},"encoding":{"y":{"datum":0,"type":"quantitative","scale":{"domain":[-8,8],"nice":false}}}},
{"data":{"name":"da"},"mark":{"type":"line","strokeWidth":1.8,"clip":true},
"encoding":{
"x":{"field":"v","type":"quantitative","scale":{"domain":[0,50],"nice":false},"axis":{"title":null,"values":[0,10,20,30,40,50],"format":"d","tickCount":40,"tickSize":-4,"labelPadding":2,"labelFontSize":10,"labelFlush":true,"labelOverlap":false}},
"y":{"field":"e","type":"quantitative","scale":{"domain":[-8,8],"nice":false},"axis":{"title":null,"labels":false,"values":[-8,-7,-6,-5,-4,-3,-2,-1,0,1,2,3,4,5,6,7,8],"tickCount":40,"tickSize":-4}},
"order":{"field":"e","type":"quantitative"},
"color":{"field":"s","type":"nominal","scale":{"domain":["Total DOS","Ba-PDOS","Ag-PDOS","Cl-PDOS"],"range":["#000000","#ff0000","#0000ff","#ff00ff"]},
"legend":{"orient":"none","legendX":34,"legendY":106,"title":null,"symbolType":"stroke","symbolStrokeWidth":2.5,"symbolSize":220,"labelFont":"Liberation Serif","labelFontWeight":"bold","labelFontSize":10,"labelColor":"black","strokeColor":"black","fillColor":"white","padding":4,"rowPadding":1}}}},
{"data":{"values":[{"v":1.3,"e":0.2,"t":"E"}]},"mark":{"type":"text","align":"left","baseline":"alphabetic","fontSize":16,"fontWeight":"bold","font":"Liberation Serif","color":"black"},"encoding":{"x":{"field":"v","type":"quantitative"},"y":{"field":"e","type":"quantitative"},"text":{"field":"t"}}},
{"data":{"values":[{"v":5.8,"e":-0.05,"t":"F"}]},"mark":{"type":"text","align":"left","baseline":"alphabetic","fontSize":10,"fontWeight":"bold","font":"Liberation Serif","color":"black"},"encoding":{"x":{"field":"v","type":"quantitative"},"y":{"field":"e","type":"quantitative"},"text":{"field":"t"}}},
{"data":{"values":[{"v":25.5,"e":6.8,"t":"BaAgCl₃"}]},"mark":{"type":"text","fontSize":14,"fontWeight":"bold","font":"Liberation Serif","color":"black"},"encoding":{"x":{"field":"v","type":"quantitative"},"y":{"field":"e","type":"quantitative"},"text":{"field":"t"}}}
]}
],"spacing":0,"bounds":"flush","resolve":{"scale":{"x":"independent","y":"independent","color":"independent"}}},
{"hconcat":[
{"width":116,"height":326,
"title":{"text":"(b) Band structure","anchor":"start","frame":"group"},
"layer":[
{"data":{"name":"bb"},"mark":{"type":"line","clip":true,"interpolate":"monotone","strokeWidth":1.6},
"encoding":{
"x":{"field":"k","type":"quantitative","scale":{"domain":[0,1],"nice":false,"zero":false},"axis":{"title":null,"values":[0,0.34,0.535,0.73,1],"tickCount":40,"labelExpr":"datum.value==0?'R':datum.value==0.34?'Γ':datum.value==0.535?'X':datum.value==0.73?'M':'Γ'","labelFontSize":13,"ticks":false,"labelPadding":0,"grid":true,"gridColor":"#8c8c8c","gridWidth":1.2,"labelFlush":true,"labelOverlap":false}},
"y":{"field":"e","type":"quantitative","scale":{"domain":[-8,8],"nice":false},"axis":{"title":"Energy(eV)","values":[-8,-7,-6,-5,-4,-3,-2,-1,0,1,2,3,4,5,6,7,8],"format":"d","tickCount":40,"tickSize":4,"labelPadding":1,"titlePadding":2,"labelFlush":false,"labelOverlap":false}},
"color":{"field":"b","type":"nominal","legend":null,"scale":{
"domain":["bb1","bb2","bl1","bl2","bm1","bo1","bp1","bp2","br1","bl3","by1","bu1","bd1","br2","bo2","bc1","bk1","bk2","bm2","bm3","bk3","bc2","bp3","bd2","bn1","bk4","bu2","bl4","bd3","br3","bb3","bm4","bt1","bp4"],
"range":["#000000","#000000","#22dd22","#22dd22","#5c1a50","#ffa500","#8040c8","#8040c8","#ff0000","#22dd22","#e0e000","#0000ff","#0b7a0b","#ff0000","#ffa500","#00e8f0","#ff00ff","#ff00ff","#5c1a50","#5c1a50","#ff00ff","#00e8f0","#8040c8","#0b7a0b","#c09090","#ff00ff","#0000ff","#22dd22","#0b7a0b","#ff0000","#000000","#5c1a50","#40d8d0","#8040c8"]}}}},
{"mark":{"type":"rule","color":"#ff0000","strokeWidth":2,"strokeDash":[8,5]},"encoding":{"y":{"datum":0}}},
{"data":{"values":[{"k":0,"e":0},{"k":0.34,"e":1.173}]},"mark":{"type":"line","color":"#ff0000","strokeWidth":2},"encoding":{"x":{"field":"k","type":"quantitative"},"y":{"field":"e","type":"quantitative"}}},
{"data":{"values":[{"k":0.34,"e":1.173}]},"mark":{"type":"point","filled":true,"color":"#ff0000","size":22,"opacity":1},"encoding":{"x":{"field":"k","type":"quantitative"},"y":{"field":"e","type":"quantitative"}}},
{"data":{"values":[{"k":0.31,"e":0.65,"t":"Eg = 1.173 eV"}]},"mark":{"type":"text","angle":322,"fontSize":9.5,"fontWeight":"bold","font":"Liberation Serif","color":"black"},"encoding":{"x":{"field":"k","type":"quantitative"},"y":{"field":"e","type":"quantitative"},"text":{"field":"t"}}},
{"data":{"values":[{"k":0.73,"e":0.5,"t":"BaCuCl₃"}]},"mark":{"type":"text","fontSize":14,"fontWeight":"bold","font":"Liberation Serif","color":"black"},"encoding":{"x":{"field":"k","type":"quantitative"},"y":{"field":"e","type":"quantitative"},"text":{"field":"t"}}}
]},
{"width":117,"height":326,
"title":{"text":"Density of states","anchor":"middle","frame":"group"},
"layer":[
{"mark":{"type":"rule","color":"#ff0000","strokeWidth":2,"strokeDash":[8,5]},"encoding":{"y":{"datum":0,"type":"quantitative","scale":{"domain":[-8,8],"nice":false}}}},
{"data":{"name":"db"},"mark":{"type":"line","strokeWidth":1.8,"clip":true},
"encoding":{
"x":{"field":"v","type":"quantitative","scale":{"domain":[0,35],"nice":false},"axis":{"title":null,"values":[0,5,10,15,20,25,30,35],"format":"d","tickCount":40,"tickSize":-4,"labelPadding":2,"labelFontSize":10,"labelFlush":true,"labelOverlap":false}},
"y":{"field":"e","type":"quantitative","scale":{"domain":[-8,8],"nice":false},"axis":{"title":null,"labels":false,"values":[-8,-7,-6,-5,-4,-3,-2,-1,0,1,2,3,4,5,6,7,8],"tickCount":40,"tickSize":-4}},
"order":{"field":"e","type":"quantitative"},
"color":{"field":"s","type":"nominal","scale":{"domain":["Total DOS","Ba-PDOS","Cu-PDOS","Cl-PDOS"],"range":["#ff0000","#22dd22","#0000ff","#000000"]},
"legend":{"orient":"none","legendX":34,"legendY":194,"title":null,"symbolType":"stroke","symbolStrokeWidth":2.5,"symbolSize":220,"labelFont":"Liberation Serif","labelFontWeight":"bold","labelFontSize":10,"labelColor":"black","strokeColor":"black","fillColor":"white","padding":3,"rowPadding":0}}}},
{"data":{"values":[{"v":1.8,"e":0.2,"t":"E"}]},"mark":{"type":"text","align":"left","baseline":"alphabetic","fontSize":16,"fontWeight":"bold","font":"Liberation Serif","color":"black"},"encoding":{"x":{"field":"v","type":"quantitative"},"y":{"field":"e","type":"quantitative"},"text":{"field":"t"}}},
{"data":{"values":[{"v":5.0,"e":-0.05,"t":"F"}]},"mark":{"type":"text","align":"left","baseline":"alphabetic","fontSize":10,"fontWeight":"bold","font":"Liberation Serif","color":"black"},"encoding":{"x":{"field":"v","type":"quantitative"},"y":{"field":"e","type":"quantitative"},"text":{"field":"t"}}},
{"data":{"values":[{"v":17.3,"e":6.8,"t":"BaCuCl₃"}]},"mark":{"type":"text","fontSize":14,"fontWeight":"bold","font":"Liberation Serif","color":"black"},"encoding":{"x":{"field":"v","type":"quantitative"},"y":{"field":"e","type":"quantitative"},"text":{"field":"t"}}}
]}
],"spacing":0,"bounds":"flush","resolve":{"scale":{"x":"independent","y":"independent","color":"independent"}}}
],
"spacing":6,
"resolve":{"scale":{"x":"independent","y":"independent","color":"independent"}}
}
